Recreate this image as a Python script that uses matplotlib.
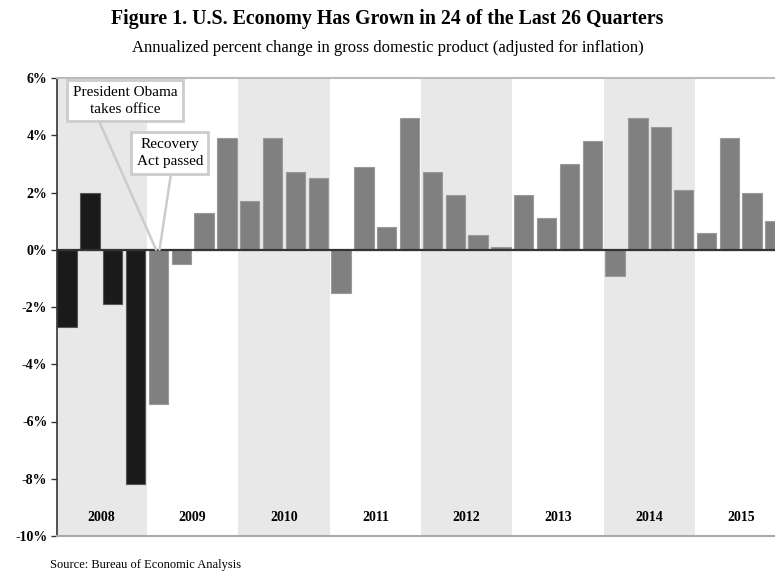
import matplotlib.pyplot as plt
import numpy as np

# quarterly real GDP growth, annualized %
years = ['2008', '2009', '2010', '2011', '2012', '2013', '2014', '2015']
gdp_growth = [-2.7, 2.0, -1.9, -8.2,
              -5.4, -0.5, 1.3, 3.9,
              1.7, 3.9, 2.7, 2.5,
              -1.5, 2.9, 0.8, 4.6,
              2.7, 1.9, 0.5, 0.1,
              1.9, 1.1, 3.0, 3.8,
              -0.9, 4.6, 4.3, 2.1,
              0.6, 3.9, 2.0, 1.0]
yticks = [6, 4, 2, 0, -2, -4, -6, -8, -10]

plt.rcParams['font.family'] = ['Liberation Serif', 'DejaVu Serif']

fig = plt.figure(figsize=(7.75, 5.73), dpi=100)
ax = fig.add_axes([57 / 775, 1 - 536 / 573, 1 - 57 / 775, (536 - 78) / 573])

x = np.arange(len(gdp_growth))
colors = ['#1a1a1a' if i < 4 else '#808080' for i in x]
edges = ['#555555' if i < 4 else '#9a9a9a' for i in x]

# alternate shading by year
for k in range(0, len(years), 2):
    ax.axvspan(4 * k - 0.5, 4 * k + 3.5, color='#e8e8e8', lw=0, zorder=0)

ax.bar(x, gdp_growth, width=0.85, color=colors, edgecolor=edges, linewidth=0.8, zorder=2)
ax.axhline(0, color='#333333', lw=1.6, zorder=3)

for k, yr in enumerate(years):
    ax.text(4 * k + 1.5, -9.35, yr, ha='center', va='center',
            fontsize=10, fontweight='bold', zorder=4)

ax.set_xlim(-0.44, 31.0)
ax.set_ylim(-10, 6)
ax.set_xticks([])
ax.set_yticks(yticks)
ax.set_yticklabels([f'{v}%' for v in yticks], fontsize=10, fontweight='bold')
ax.tick_params(axis='y', length=4, width=1, color='#333333', pad=3)

ax.spines['left'].set_color('#333333')
ax.spines['left'].set_linewidth(1.2)
ax.spines['bottom'].set_color('#aaaaaa')
ax.spines['bottom'].set_linewidth(1.5)
ax.spines['top'].set_color('#bbbbbb')
ax.spines['top'].set_linewidth(1.5)
ax.spines['right'].set_visible(False)

box = dict(boxstyle='square,pad=0.35', fc='white', ec='#cccccc', lw=2)
arrow = dict(arrowstyle='-', color='#cccccc', lw=1.8, shrinkA=0, shrinkB=0)
ax.annotate('President Obama\ntakes office', xy=(3.9, 0), xytext=(2.54, 5.2),
            ha='center', va='center', fontsize=11, bbox=box, linespacing=1.45,
            arrowprops=dict(arrow, relpos=(0.23, 0.0)), zorder=5)
ax.annotate('Recovery\nAct passed', xy=(4.05, 0), xytext=(4.5, 3.38),
            ha='center', va='center', fontsize=11, bbox=box, linespacing=1.45,
            arrowprops=dict(arrow, relpos=(0.53, 0.0)), zorder=5)

fig.text(0.5, 0.966, 'Figure 1. U.S. Economy Has Grown in 24 of the Last 26 Quarters',
         ha='center', va='center', fontsize=14.3, fontweight='bold')
fig.text(0.5, 0.917, 'Annualized percent change in gross domestic product (adjusted for inflation)',
         ha='center', va='center', fontsize=12)
fig.text(50 / 775, 1 - 565 / 573, 'Source: Bureau of Economic Analysis',
         ha='left', va='center', fontsize=9)

fig.savefig('out.png', dpi=100)
